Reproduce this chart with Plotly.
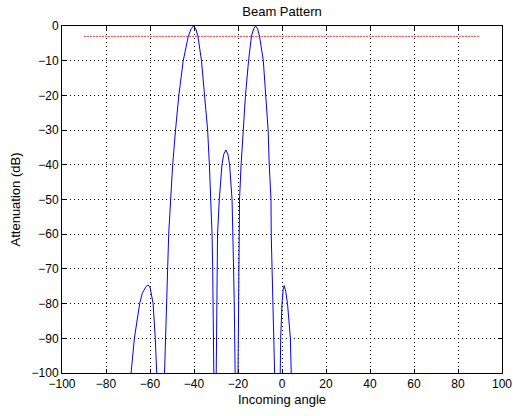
import plotly.graph_objects as go

# Beam pattern curve (angle in degrees, attenuation in dB); values below -100 run off the axes
angle = [-90, -70, -68.6, -67.1, -64.7, -63.5, -62, -61, -60, -59.2, -58.6, -57.6, -56.8,
         -55, -53.4, -53, -52.6, -52, -51.5, -50.6, -49.7, -48.4, -46.9, -44.9, -42.6, -41.3,
         -40.2, -39.2, -38.2, -36.6, -35.2, -33.8, -33, -32.3, -31.8, -31.5, -31.2, -31.1, -30.9,
         -30.4, -29.9, -29.8, -29.7, -29.6, -29.3, -28.5, -27.3, -26.5, -25.5, -24.6, -23.8,
         -22.7, -22.5, -22, -21.7, -21.6, -21.4, -20.7, -20, -19.9, -19.7, -19.6, -19.5,
         -19.3, -18.6, -17.7, -16.6, -15.2, -13.9, -12.9, -12, -11.1, -10.2, -8.5, -7.3, -6.3,
         -5.8, -5, -4.9, -4.5, -4.1, -3.5, -3.2, -2, -0.8, -0.6, 0, 0.5, 1.0, 1.7, 2.5,
         3.8, 4.2, 5.5, 90]
atten = [-140, -115, -100, -90, -80, -77, -75.3, -74.6, -75.2, -77.5, -80, -90, -100,
         -130, -100, -90, -80, -70, -60, -50, -40, -30, -20, -10, -3, -0.8,
         0, -0.8, -3, -10, -20, -30, -40, -50, -60, -70, -80, -90, -100,
         -135, -100, -90, -80, -70, -60, -50, -40, -37, -35.7, -37, -40,
         -50, -60, -70, -80, -90, -100, -130, -100, -90, -80, -70, -60,
         -50, -40, -30, -20, -10, -3, -0.8, 0, -0.8, -3, -10, -20, -30,
         -40, -50, -60, -70, -80, -90, -100, -135, -100, -90, -80, -76, -74.8, -76.5, -80,
         -90, -100, -130, -140]

# -3 dB reference line
ref_angle = [-90, 90]
ref_db = [-3, -3]

x_ticks = [-100, -80, -60, -40, -20, 0, 20, 40, 60, 80, 100]
y_ticks = [0, -10, -20, -30, -40, -50, -60, -70, -80, -90, -100]

fig = go.Figure()
fig.add_trace(go.Scatter(x=ref_angle, y=ref_db, mode="lines",
                         line=dict(color="#ff4040", width=1, dash="2px,1px"),
                         showlegend=False, hoverinfo="skip"))
fig.add_trace(go.Scatter(x=angle, y=atten, mode="lines",
                         line=dict(color="#0000ff", width=1),
                         showlegend=False))

axis_common = dict(
    showline=True, linecolor="black", linewidth=1, mirror="ticks",
    ticks="inside", ticklen=4, tickcolor="black", tickwidth=1,
    showgrid=True, gridcolor="black", gridwidth=1, griddash="1px,3px",
    zeroline=False, automargin=False,
    tickfont=dict(family="Liberation Sans, Arial", size=12, color="black"),
)

fig.update_layout(
    width=513, height=416,
    margin=dict(l=62, r=11, t=26, b=43),
    paper_bgcolor="white", plot_bgcolor="white",
    font=dict(family="Liberation Sans, Arial", size=13, color="black"),
    title=dict(text="Beam Pattern", x=0.5, xref="paper", y=1 - 11 / 416, yref="container",
               xanchor="center", yanchor="middle",
               font=dict(size=13, color="black")),
    xaxis=dict(range=[-100, 100], tickvals=x_ticks,
               title=dict(text="Incoming angle", standoff=4, font=dict(size=13)),
               **axis_common),
    yaxis=dict(range=[-100, 0], tickvals=y_ticks,
               title=dict(text="Attenuation (dB)", standoff=8, font=dict(size=13)),
               **axis_common),
)

fig.write_html("out.html")
